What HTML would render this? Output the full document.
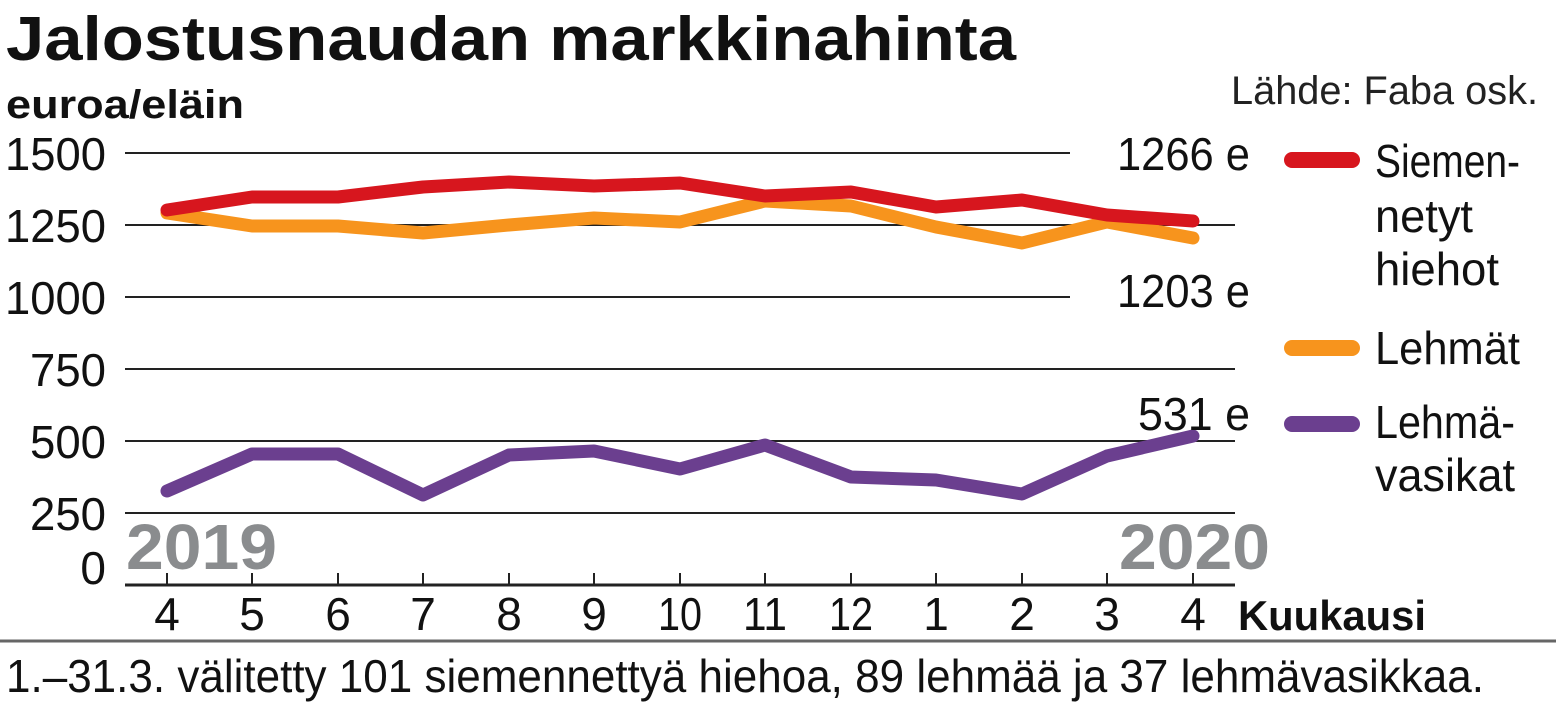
<!DOCTYPE html>
<html><head><meta charset="utf-8"><style>
body{margin:0;background:#fff;}
svg{display:block;font-family:"Liberation Sans",sans-serif;}
</style></head><body>
<svg width="1556" height="702" viewBox="0 0 1556 702">
<text x="6" y="60" font-size="62" font-weight="bold" fill="#111" textLength="1010" lengthAdjust="spacingAndGlyphs">Jalostusnaudan markkinahinta</text>
<text x="6" y="118" font-size="40" font-weight="bold" fill="#111" textLength="238" lengthAdjust="spacingAndGlyphs">euroa/eläin</text>
<text x="1538" y="104" font-size="40" fill="#222" text-anchor="end" textLength="307" lengthAdjust="spacingAndGlyphs">Lähde: Faba osk.</text>
<g stroke="#222" stroke-width="2">
<line x1="125" y1="153" x2="1070" y2="153"/>
<line x1="125" y1="225" x2="1235" y2="225"/>
<line x1="125" y1="297" x2="1070" y2="297"/>
<line x1="125" y1="369" x2="1235" y2="369"/>
<line x1="125" y1="441" x2="1235" y2="441"/>
<line x1="125" y1="513" x2="1235" y2="513"/>
<line x1="125" y1="585" x2="1235" y2="585" stroke-width="3"/>
</g>
<g stroke="#222" stroke-width="2">
<line x1="167" y1="573" x2="167" y2="585"/><line x1="252" y1="573" x2="252" y2="585"/><line x1="338" y1="573" x2="338" y2="585"/><line x1="423" y1="573" x2="423" y2="585"/><line x1="509" y1="573" x2="509" y2="585"/><line x1="594" y1="573" x2="594" y2="585"/><line x1="680" y1="573" x2="680" y2="585"/><line x1="765" y1="573" x2="765" y2="585"/><line x1="851" y1="573" x2="851" y2="585"/><line x1="936" y1="573" x2="936" y2="585"/><line x1="1022" y1="573" x2="1022" y2="585"/><line x1="1107" y1="573" x2="1107" y2="585"/><line x1="1193" y1="573" x2="1193" y2="585"/>
</g>
<g font-size="46" fill="#111" text-anchor="end">
<text x="106" y="170" textLength="101" lengthAdjust="spacingAndGlyphs">1500</text><text x="106" y="242" textLength="101" lengthAdjust="spacingAndGlyphs">1250</text><text x="106" y="314" textLength="101" lengthAdjust="spacingAndGlyphs">1000</text><text x="106" y="386" textLength="76" lengthAdjust="spacingAndGlyphs">750</text><text x="106" y="458" textLength="76" lengthAdjust="spacingAndGlyphs">500</text><text x="106" y="530" textLength="76" lengthAdjust="spacingAndGlyphs">250</text><text x="106" y="584">0</text>
</g>
<g font-size="46" fill="#111" text-anchor="middle">
<text x="167" y="630">4</text><text x="252" y="630">5</text><text x="338" y="630">6</text><text x="423" y="630">7</text><text x="509" y="630">8</text><text x="594" y="630">9</text><text x="680" y="630" textLength="44" lengthAdjust="spacingAndGlyphs">10</text><text x="765" y="630" textLength="44" lengthAdjust="spacingAndGlyphs">11</text><text x="851" y="630" textLength="44" lengthAdjust="spacingAndGlyphs">12</text><text x="936" y="630">1</text><text x="1022" y="630">2</text><text x="1107" y="630">3</text><text x="1193" y="630">4</text>
</g>
<text x="1238" y="630" font-size="42" font-weight="bold" fill="#111" textLength="188" lengthAdjust="spacingAndGlyphs">Kuukausi</text>
<text x="126" y="569" font-size="64" font-weight="bold" fill="#8a8c8e" textLength="151" lengthAdjust="spacingAndGlyphs">2019</text>
<text x="1270" y="569" font-size="64" font-weight="bold" fill="#8a8c8e" text-anchor="end" textLength="151" lengthAdjust="spacingAndGlyphs">2020</text>
<g fill="none" stroke-width="13" stroke-linecap="round" stroke-linejoin="round">
<polyline stroke="#f7941d" points="167,213 252,226 338,226 423,233 509,225 594,218 680,222 765,201 851,206 936,227 1022,243 1107,222 1193,238"/>
<polyline stroke="#d7161e" points="167,210 252,197 338,197 423,187 509,182 594,186 680,183 765,196 851,192 936,207 1022,200 1107,215 1193,221"/>
<polyline stroke="#6b3f8f" points="167,491 252,454 338,454 423,495 509,455 594,451 680,469 765,445 851,477 936,480 1022,494 1107,456 1193,436"/>
</g>
<g font-size="46" fill="#111" text-anchor="end">
<text x="1250" y="170" textLength="133" lengthAdjust="spacingAndGlyphs">1266 e</text><text x="1250" y="307" textLength="133" lengthAdjust="spacingAndGlyphs">1203 e</text><text x="1250" y="430" textLength="112" lengthAdjust="spacingAndGlyphs">531 e</text>
</g>
<g stroke-width="16" stroke-linecap="round">
<line x1="1292" y1="160" x2="1352" y2="160" stroke="#d7161e"/>
<line x1="1292" y1="348" x2="1352" y2="348" stroke="#f7941d"/>
<line x1="1292" y1="424" x2="1352" y2="424" stroke="#6b3f8f"/>
</g>
<g font-size="46" fill="#111">
<text x="1375" y="177" textLength="145" lengthAdjust="spacingAndGlyphs">Siemen-</text><text x="1375" y="232" textLength="98" lengthAdjust="spacingAndGlyphs">netyt</text><text x="1375" y="285" textLength="124" lengthAdjust="spacingAndGlyphs">hiehot</text>
<text x="1375" y="364" textLength="145" lengthAdjust="spacingAndGlyphs">Lehmät</text>
<text x="1375" y="438" textLength="140" lengthAdjust="spacingAndGlyphs">Lehmä-</text><text x="1375" y="491" textLength="140" lengthAdjust="spacingAndGlyphs">vasikat</text>
</g>
<line x1="0" y1="641" x2="1556" y2="641" stroke="#666" stroke-width="3"/>
<text x="6" y="692" font-size="46" fill="#111" textLength="1478" lengthAdjust="spacingAndGlyphs">1.–31.3. välitetty 101 siemennettyä hiehoa, 89 lehmää ja 37 lehmävasikkaa.</text>
</svg>
</body></html>
